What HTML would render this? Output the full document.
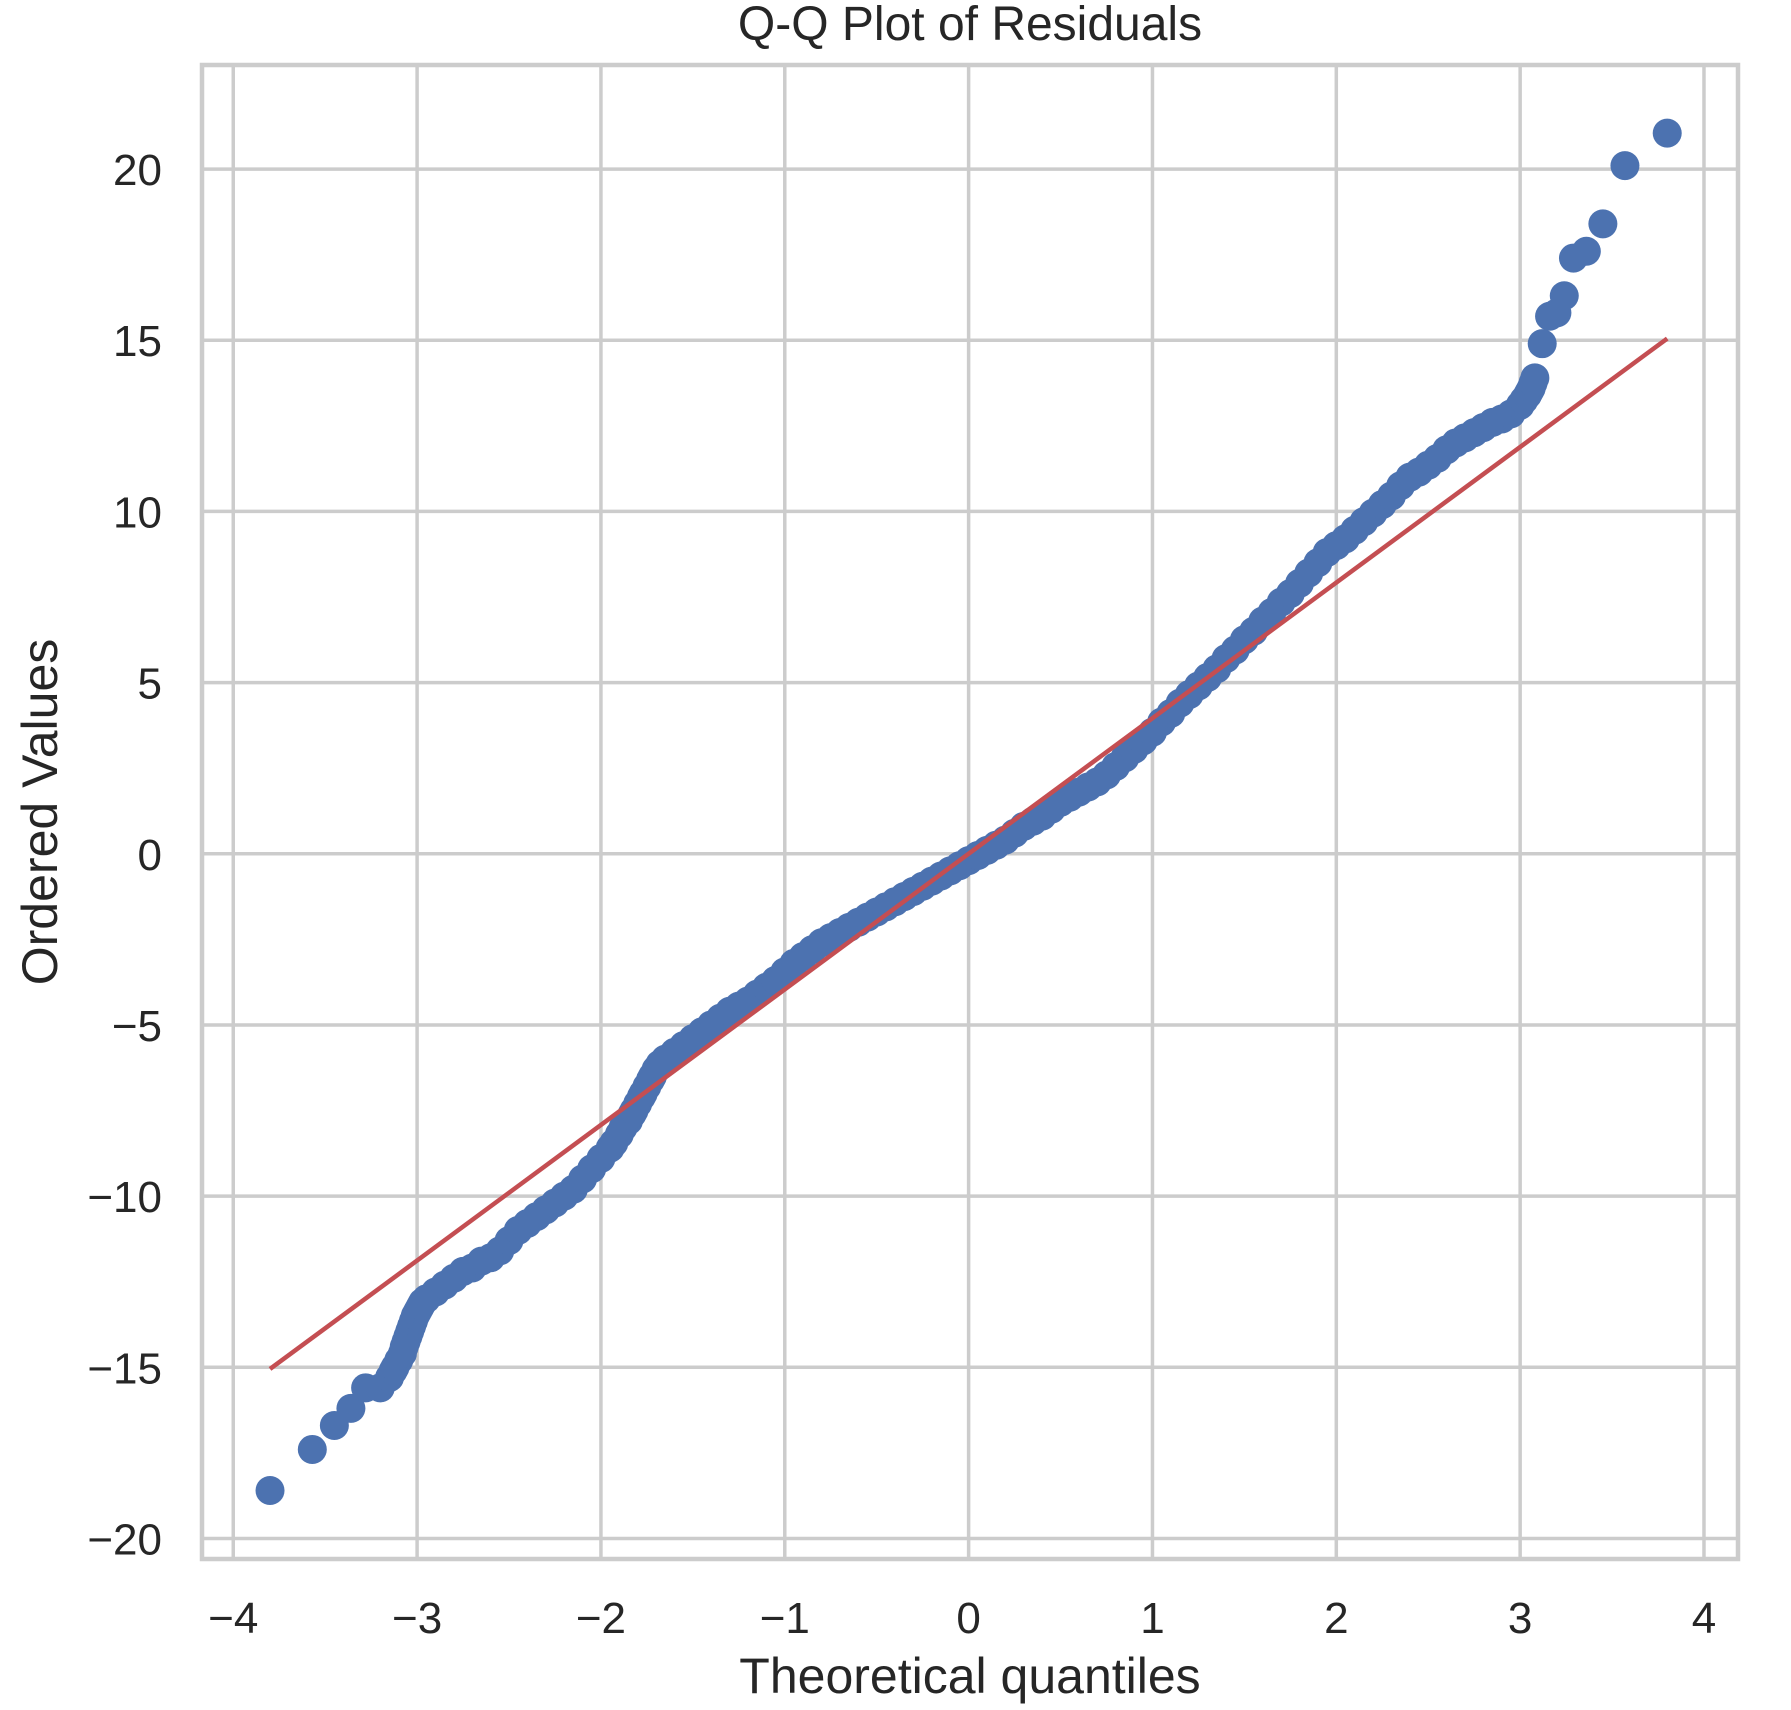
<!DOCTYPE html>
<html><head><meta charset="utf-8"><style>
html,body{margin:0;padding:0;background:#fff;}
svg{display:block;font-family:"Liberation Sans",Arial,sans-serif;}
</style></head><body>
<svg id="chart" width="1791" height="1710" viewBox="0 0 1791 1710"></svg>
<script>
const xTicks=[-4,-3,-2,-1,0,1,2,3,4];
const yTicks=[-20,-15,-10,-5,0,5,10,15,20];
const tailLowQ=[-3.8,-3.57,-3.45,-3.36,-3.28,-3.2,-3.15];
const tailLowV=[-18.6,-17.4,-16.7,-16.2,-15.6,-15.6,-15.3];
const bodyQ=[-3.10,-3.05,-3.00,-2.95,-2.90,-2.85,-2.80,-2.75,-2.70,-2.65,-2.60,-2.55,-2.50,-2.45,-2.40,-2.35,-2.30,-2.25,-2.20,-2.15,-2.10,-2.05,-2.00,-1.95,-1.90,-1.85,-1.80,-1.75,-1.70,-1.65,-1.60,-1.55,-1.50,-1.45,-1.40,-1.35,-1.30,-1.25,-1.20,-1.15,-1.10,-1.05,-1.00,-0.95,-0.90,-0.85,-0.80,-0.75,-0.70,-0.65,-0.60,-0.55,-0.50,-0.45,-0.40,-0.35,-0.30,-0.25,-0.20,-0.15,-0.10,-0.05,0.00,0.05,0.10,0.15,0.20,0.25,0.30,0.35,0.40,0.45,0.50,0.55,0.60,0.65,0.70,0.75,0.80,0.85,0.90,0.95,1.00,1.05,1.10,1.15,1.20,1.25,1.30,1.35,1.40,1.45,1.50,1.55,1.60,1.65,1.70,1.75,1.80,1.85,1.90,1.95,2.00,2.05,2.10,2.15,2.20,2.25,2.30,2.35,2.40,2.45,2.50,2.55,2.60,2.65,2.70,2.75,2.80,2.85,2.90,2.95,3.00,3.05,3.08];
const bodyV=[-14.8,-14.1,-13.4,-13.0,-12.8,-12.6,-12.4,-12.2,-12.1,-11.9,-11.8,-11.6,-11.3,-11.0,-10.8,-10.6,-10.4,-10.2,-10.0,-9.8,-9.5,-9.2,-8.9,-8.6,-8.2,-7.8,-7.3,-6.8,-6.3,-6.0,-5.8,-5.6,-5.4,-5.2,-5.0,-4.8,-4.6,-4.45,-4.3,-4.1,-3.9,-3.7,-3.45,-3.2,-3.0,-2.8,-2.6,-2.45,-2.3,-2.15,-2.0,-1.85,-1.7,-1.55,-1.4,-1.25,-1.1,-0.95,-0.8,-0.65,-0.5,-0.35,-0.2,-0.05,0.1,0.25,0.4,0.6,0.8,0.95,1.1,1.3,1.5,1.65,1.8,1.95,2.1,2.3,2.55,2.8,3.05,3.3,3.55,3.85,4.1,4.4,4.65,4.9,5.15,5.4,5.7,5.95,6.25,6.5,6.8,7.05,7.35,7.6,7.9,8.2,8.5,8.8,9.0,9.2,9.45,9.7,9.95,10.2,10.45,10.75,11.0,11.15,11.35,11.55,11.8,12.0,12.15,12.3,12.45,12.6,12.7,12.85,13.1,13.5,13.9];
const fillQ=[-3.13,-3.12,-3.08,-3.07,-3.06,-3.04,-3.03,-3.02,-3.01,-2.99,-2.98,-2.97,-1.93,-1.88,-1.83,-1.82,-1.78,-1.77,-1.73,-1.72,-1.68,3.02,3.04,3.06,3.07];
const fillV=[-15.1,-15.0,-14.6,-14.4,-14.25,-13.95,-13.8,-13.65,-13.5,-13.3,-13.2,-13.1,-8.45,-8.0,-7.6,-7.5,-7.1,-7.0,-6.6,-6.5,-6.15,13.25,13.4,13.6,13.75];
const tailHighQ=[3.12,3.16,3.2,3.24,3.29,3.36,3.45,3.57,3.8];
const tailHighV=[14.9,15.7,15.8,16.3,17.4,17.6,18.4,20.1,21.05];
const fitQ=[-3.8,3.8];
const fitV=[-15.05,15.05];

const NS='http://www.w3.org/2000/svg';
const svg=document.getElementById('chart');
const X0=202,X1=1738,Y0=65,Y1=1559;
const xmin=-4.17,xmax=4.185,ymin=-20.6,ymax=23.04;
const sx=v=>X0+(v-xmin)/(xmax-xmin)*(X1-X0);
const sy=v=>Y1-(v-ymin)/(ymax-ymin)*(Y1-Y0);
function mk(t,a,p){const e=document.createElementNS(NS,t);for(const k in a)e.setAttribute(k,a[k]);(p||svg).appendChild(e);return e;}

const grid=mk('g',{});


xTicks.forEach(t=>{
  const l=mk('line',{x1:sx(t),x2:sx(t),y1:Y0,y2:Y1,stroke:'#cccccc','stroke-width':3.5},grid);
  
  
  const tx=mk('text',{x:sx(t),y:1633,'text-anchor':'middle','font-size':44,fill:'#262626'});
  tx.textContent=(t<0?'\u2212'+(-t):t);
  
  
});
yTicks.forEach(t=>{
  const l=mk('line',{x1:X0,x2:X1,y1:sy(t),y2:sy(t),stroke:'#cccccc','stroke-width':3.5},grid);
  
  
  const tx=mk('text',{x:162,y:sy(t)+16,'text-anchor':'end','font-size':44,fill:'#262626'});
  tx.textContent=(t<0?'\u2212'+(-t):t);
  
  
});
const frame=mk('rect',{x:X0,y:Y0,width:X1-X0,height:Y1-Y0,fill:'none',stroke:'#cccccc','stroke-width':4.5});



const pts=mk('g',{fill:'#4c72b0'});


[[tailLowQ,tailLowV],[bodyQ,bodyV],[fillQ,fillV],[tailHighQ,tailHighV]].forEach(([qs,vs])=>{
  qs.forEach((q,i)=>{
    const c=mk('circle',{cx:sx(q),cy:sy(vs[i]),r:14.5},pts);
    
    
  });
});
const fit=mk('line',{x1:sx(fitQ[0]),y1:sy(fitV[0]),x2:sx(fitQ[1]),y2:sy(fitV[1]),stroke:'#c44e52','stroke-width':4.5});



const title=mk('text',{x:970,y:40,'text-anchor':'middle','font-size':48,fill:'#262626'});
title.textContent='Q-Q Plot of Residuals';


const xl=mk('text',{x:970,y:1693,'text-anchor':'middle','font-size':50,fill:'#262626'});
xl.textContent='Theoretical quantiles';


const yl=mk('text',{x:0,y:0,'text-anchor':'middle','font-size':50,fill:'#262626',transform:'translate(57,812) rotate(-90)'});
yl.textContent='Ordered Values';


</script>
</body></html>
